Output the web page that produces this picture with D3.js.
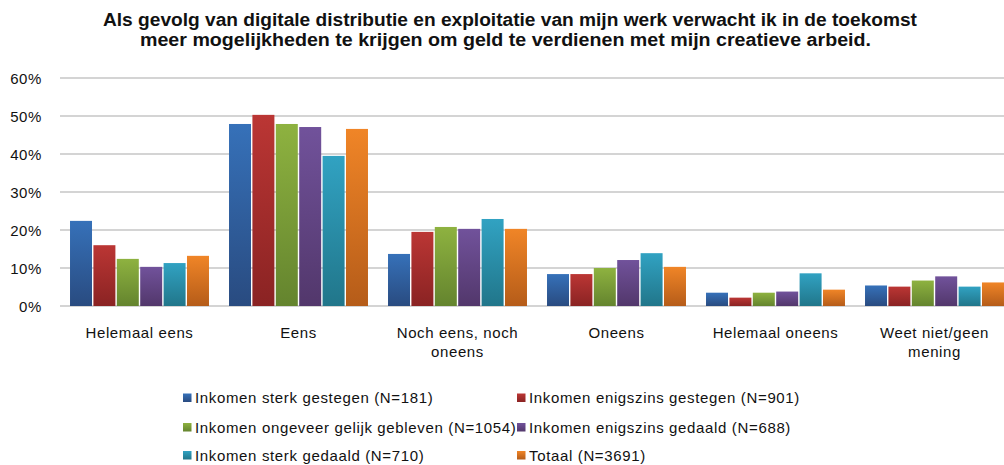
<!DOCTYPE html>
<html>
<head>
<meta charset="utf-8">
<script src="https://cdn.jsdelivr.net/npm/d3@7"></script>
<style>
  html, body { margin: 0; padding: 0; background: #fff; overflow: hidden; }
  text { font-family: "Liberation Sans", Arial, sans-serif; fill: #111; }
</style>
</head>
<body>
<svg id="chart" width="1004" height="465"></svg>
<script>
const titleLines = [
  "Als gevolg van digitale distributie en exploitatie van mijn werk verwacht ik in de toekomst",
  "meer mogelijkheden te krijgen om geld te verdienen met mijn creatieve arbeid."
];
const categories = [
  ["Helemaal eens"],
  ["Eens"],
  ["Noch eens, noch", "oneens"],
  ["Oneens"],
  ["Helemaal oneens"],
  ["Weet niet/geen", "mening"]
];
const seriesNames = [
  "Inkomen sterk gestegen (N=181)",
  "Inkomen enigszins gestegen (N=901)",
  "Inkomen ongeveer gelijk gebleven (N=1054)",
  "Inkomen enigszins gedaald (N=688)",
  "Inkomen sterk gedaald (N=710)",
  "Totaal (N=3691)"
];
const sterkGestegen    = [0.224, 0.479, 0.137, 0.084, 0.035, 0.054];
const enigszinsGest    = [0.160, 0.503, 0.195, 0.084, 0.022, 0.051];
const gelijkGebleven   = [0.124, 0.479, 0.208, 0.100, 0.035, 0.067];
const enigszinsGedaald = [0.103, 0.471, 0.203, 0.121, 0.038, 0.078];
const sterkGedaald     = [0.113, 0.395, 0.229, 0.139, 0.086, 0.051];
const totaal           = [0.132, 0.466, 0.203, 0.103, 0.043, 0.062];
const yTicks = [0, 0.1, 0.2, 0.3, 0.4, 0.5, 0.6];

const seriesValues = [sterkGestegen, enigszinsGest, gelijkGebleven, enigszinsGedaald, sterkGedaald, totaal];
const colorsTop = ["#3671b9", "#bb3634", "#8eb240", "#71529b", "#31a2c2", "#f08527"];
const colorsBot = ["#294b80", "#8a2323", "#64842e", "#52376b", "#21768a", "#b55c19"];

const svg = d3.select("#chart");
const defs = svg.append("defs");
colorsTop.forEach((c, i) => {
  const g = defs.append("linearGradient").attr("id", "grad" + i)
    .attr("x1", 0).attr("y1", 0).attr("x2", 0).attr("y2", 1);
  g.append("stop").attr("offset", "0%").attr("stop-color", c);
  g.append("stop").attr("offset", "100%").attr("stop-color", colorsBot[i]);
});

// Title
const title = svg.append("g");
const titleSpec = [{x0: 103, x1: 917, y: 26}, {x0: 140, x1: 871, y: 46}];
titleLines.forEach((t, i) => {
  const s = titleSpec[i];
  title.append("text")
    .attr("x", s.x0).attr("y", s.y)
    .attr("font-size", 18).attr("font-weight", "bold")
    .attr("textLength", s.x1 - s.x0).attr("lengthAdjust", "spacingAndGlyphs")
    .text(t);
});

const y = d3.scaleLinear().domain([0, 0.6]).range([306, 78]);
const x0 = d3.scaleBand().domain(d3.range(categories.length)).range([60, 1014])
  .paddingInner(0.126).paddingOuter(0.063);
const x1 = d3.scaleBand().domain(d3.range(seriesNames.length)).range([0, x0.bandwidth()])
  .paddingInner(0.06);

// Gridlines
svg.append("g").selectAll("line").data(yTicks).join("line")
  .attr("x1", 60).attr("x2", 1004)
  .attr("y1", d => y(d)).attr("y2", d => y(d))
  .attr("stroke", "#c6c6c6").attr("stroke-width", 1.5);

// Y axis labels
const yAxis = d3.axisLeft(y).tickValues(yTicks).tickFormat(d3.format(".0%")).tickSize(0).tickPadding(0);
const yg = svg.append("g").attr("transform", "translate(42,0)").call(yAxis);
yg.select(".domain").remove();
yg.selectAll("text").attr("font-size", 15).attr("letter-spacing", "0.6px")
  .attr("font-family", "Liberation Sans, Arial, sans-serif").attr("fill", "#111")
  .attr("dy", "0.35em");

// Bars
const groups = svg.append("g").selectAll("g").data(categories).join("g")
  .attr("transform", (d, i) => `translate(${x0(i)},0)`);
groups.selectAll("rect").data((d, ci) => seriesValues.map((s, si) => ({si, v: s[ci]})))
  .join("rect")
  .attr("x", d => x1(d.si))
  .attr("width", x1.bandwidth())
  .attr("y", d => y(d.v))
  .attr("height", d => y(0) - y(d.v))
  .attr("fill", d => `url(#grad${d.si})`);

// Category labels
const catg = svg.append("g");
categories.forEach((lines, i) => {
  const cx = x0(i) + x0.bandwidth() / 2;
  lines.forEach((l, j) => {
    catg.append("text").attr("x", cx).attr("y", 338 + j * 18.5)
      .attr("text-anchor", "middle").attr("font-size", 15).attr("letter-spacing", "0.6px")
      .text(l);
  });
});

// Legend
const legendPos = [
  {sx: 183, tx: 195, y: 403},
  {sx: 517, tx: 529, y: 403},
  {sx: 183, tx: 195, y: 432.5},
  {sx: 517, tx: 529, y: 432.5},
  {sx: 183, tx: 195, y: 460.5},
  {sx: 517, tx: 529, y: 460.5}
];
const leg = svg.append("g");
seriesNames.forEach((n, i) => {
  const p = legendPos[i];
  leg.append("rect").attr("x", p.sx).attr("y", p.y - 9.5).attr("width", 8.5).attr("height", 8.5)
    .attr("fill", `url(#grad${i})`);
  leg.append("text").attr("x", p.tx).attr("y", p.y).attr("font-size", 15)
    .attr("letter-spacing", "0.65px").text(n);
});
</script>
</body>
</html>
